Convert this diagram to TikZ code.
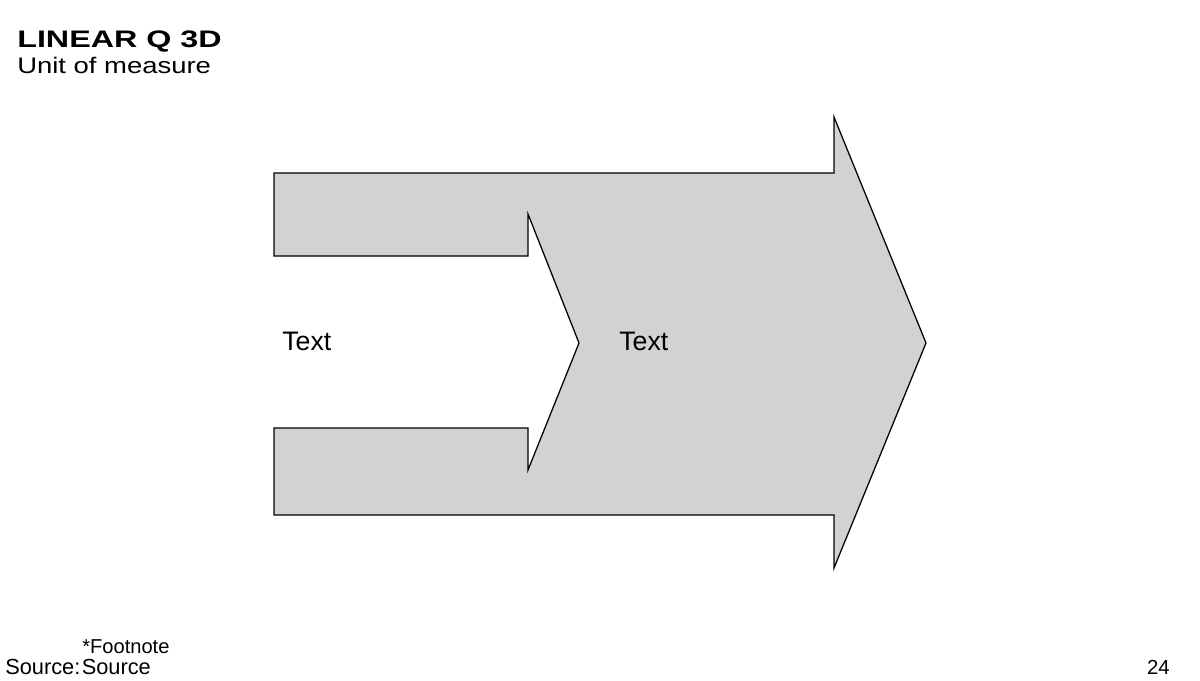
\documentclass[tikz,border=0pt]{standalone}
\usepackage{fontspec}
\setmainfont{Liberation Sans}
\usepackage{graphicx}

\tikzset{
  arrowshape/.style={draw=black, line width=0.9pt, fill=gray!35, line join=miter},
  label/.style={inner sep=0pt, anchor=base west}
}

\begin{document}
\begin{tikzpicture}[x=0.025cm, y=-0.025cm]

\useasboundingbox (0,0) rectangle (1200,680);

% title
\node[label] (title) at (17,47) {\scalebox{1.35}[1]{\fontsize{17}{19}\selectfont\bfseries LINEAR Q 3D}};
\node[label] (unit) at (17,73) {\scalebox{1.22}[1]{\fontsize{16}{18}\selectfont Unit of measure}};

% merge arrow
\draw[arrowshape] (274,173) -- (834,173) -- (834,117) -- (926,343) -- (834,568)
  -- (834,515) -- (274,515) -- (274,428) -- (528,428) -- (528,470)
  -- (579,343) -- (528,214) -- (528,256) -- (274,256) -- cycle;

\node[label] (textin) at (282,350) {\fontsize{19}{21}\selectfont Text};
\node[label] (textout) at (619,350) {\fontsize{19}{21}\selectfont Text};

% footer
\node[label] (foot) at (82,653) {\fontsize{14.3}{16}\selectfont *Footnote};
\node[label] (src) at (5,674) {\fontsize{15.5}{17}\selectfont Source:\kern1pt Source};
\node[inner sep=0pt, anchor=base east] (page) at (1170,674) {\fontsize{14.5}{16}\selectfont 24};

\end{tikzpicture}
\end{document}
